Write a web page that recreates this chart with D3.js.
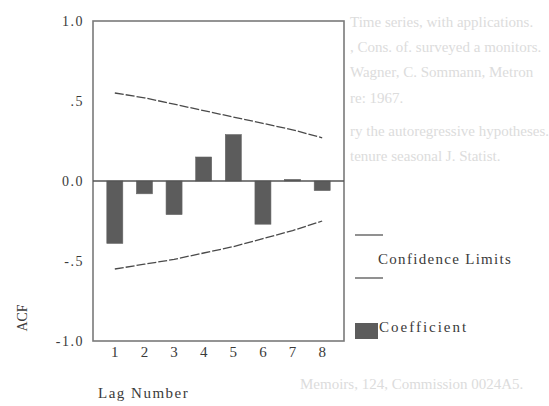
<!DOCTYPE html>
<html lang="en">
<head>
    <meta charset="UTF-8">
    <title>ACF</title>
    <style>
        body { margin: 0; background: #fff; }
        svg { display: block; }
        text { font-family: "Liberation Serif", "DejaVu Serif", serif; fill: #3a3a3a; }
        .bleed text { fill: #dcdcdc; font-size: 15px; }
    </style>
</head>
<body>
    <div id="chart"></div>
    <script src="https://cdnjs.cloudflare.com/ajax/libs/d3/7.8.5/d3.min.js"></script>
    <script>
        // values
        const lags = ["1", "2", "3", "4", "5", "6", "7", "8"];
        const acf = [-0.39, -0.08, -0.21, 0.15, 0.29, -0.27, 0.01, -0.06];
        const upperLimit = [0.55, 0.52, 0.48, 0.44, 0.40, 0.36, 0.32, 0.27];
        const lowerLimit = [-0.55, -0.52, -0.49, -0.45, -0.41, -0.36, -0.31, -0.25];
        const yTicks = [1, 0.5, 0, -0.5, -1];
        const yTickLabels = ["1.0", ".5", "0.0", "-.5", "-1.0"];

        // faint text showing through from the other side of the page
        const bleedLines = [
            "Time series, with applications.",
            ", Cons. of. surveyed a monitors.",
            "Wagner, C. Sommann, Metron",
            "re: 1967.",
            "ry the autoregressive hypotheses.",
            "tenure seasonal J. Statist.",
            "Memoirs, 124, Commission 0024A5."
        ];
        const bleedX = [350, 350, 350, 350, 350, 350, 300];
        const bleedY = [22, 47, 72, 98, 131, 156, 384];

        const W = 549, H = 406;
        const frame = { left: 93, right: 344, top: 21, bottom: 341 };

        const svg = d3.select("#chart").append("svg")
            .attr("width", W)
            .attr("height", H);

        svg.append("g").attr("class", "bleed")
            .selectAll("text")
            .data(bleedLines)
            .enter()
            .append("text")
            .attr("x", (d, i) => bleedX[i])
            .attr("y", (d, i) => bleedY[i])
            .attr("dy", "0.35em")
            .text(d => d);

        const x = d3.scaleBand()
            .domain(lags)
            .range([100, 337])
            .paddingInner(0.46)
            .paddingOuter(0.23);

        const y = d3.scaleLinear()
            .domain([-1, 1])
            .range([frame.bottom, frame.top]);

        // plot frame
        svg.append("rect")
            .attr("x", frame.left)
            .attr("y", frame.top)
            .attr("width", frame.right - frame.left)
            .attr("height", frame.bottom - frame.top)
            .style("fill", "#fff")
            .style("stroke", "#7a7a7a")
            .style("stroke-width", 1.6);

        // y axis labels
        const yAxis = svg.append("g")
            .attr("transform", `translate(${frame.left}, 0)`)
            .call(d3.axisLeft(y)
                .tickValues(yTicks)
                .tickSize(0)
                .tickPadding(9)
                .tickFormat((d, i) => yTickLabels[i]));
        yAxis.select(".domain").remove();
        yAxis.selectAll("text")
            .style("font-size", "14px")
            .style("letter-spacing", "1.5px")
            .style("fill", "#3a3a3a");

        // x axis labels
        const xAxis = svg.append("g")
            .attr("transform", `translate(0, ${frame.bottom})`)
            .call(d3.axisBottom(x).tickSize(0).tickPadding(5));
        xAxis.select(".domain").remove();
        xAxis.selectAll("text")
            .style("font-size", "15px")
            .style("fill", "#3a3a3a");

        // bars
        svg.append("g")
            .selectAll("rect")
            .data(acf)
            .enter()
            .append("rect")
            .attr("x", (d, i) => x(lags[i]))
            .attr("y", d => y(Math.max(0, d)))
            .attr("width", x.bandwidth())
            .attr("height", d => Math.abs(y(d) - y(0)))
            .style("fill", "#5c5c5c")
            .style("stroke", "#666")
            .style("stroke-width", 0.6);

        // zero line
        svg.append("line")
            .attr("x1", frame.left)
            .attr("x2", frame.right)
            .attr("y1", y(0))
            .attr("y2", y(0))
            .style("stroke", "#555")
            .style("stroke-width", 1.6);

        // confidence limits
        const limitLine = d3.line()
            .x((d, i) => x(lags[i]) + x.bandwidth() / 2)
            .y(d => y(d));

        [upperLimit, lowerLimit].forEach(s => {
            svg.append("path")
                .datum(s)
                .attr("d", limitLine)
                .style("fill", "none")
                .style("stroke", "#4a4a4a")
                .style("stroke-width", 1.3)
                .style("stroke-dasharray", "9,2");
        });

        // legend
        const legend = svg.append("g");
        [235, 278].forEach(ly => {
            legend.append("line")
                .attr("x1", 355).attr("x2", 383)
                .attr("y1", ly).attr("y2", ly)
                .style("stroke", "#555")
                .style("stroke-width", 1.3);
        });
        legend.append("text")
            .attr("x", 378)
            .attr("y", 259)
            .attr("dy", "0.35em")
            .style("font-size", "15px")
            .style("letter-spacing", "1.3px")
            .text("Confidence Limits");
        legend.append("rect")
            .attr("x", 355)
            .attr("y", 323)
            .attr("width", 23)
            .attr("height", 16)
            .style("fill", "#5c5c5c");
        legend.append("text")
            .attr("x", 379)
            .attr("y", 327)
            .attr("dy", "0.35em")
            .style("font-size", "15px")
            .style("letter-spacing", "2px")
            .text("Coefficient");

        // axis titles
        svg.append("text")
            .attr("x", 98)
            .attr("y", 393)
            .attr("dy", "0.35em")
            .style("font-size", "15px")
            .style("letter-spacing", "1.5px")
            .text("Lag Number");
        svg.append("text")
            .attr("transform", "translate(22, 318) rotate(-90)")
            .attr("text-anchor", "middle")
            .attr("dy", "0.35em")
            .style("font-size", "14px")
            .text("ACF");
    </script>
</body>
</html>
